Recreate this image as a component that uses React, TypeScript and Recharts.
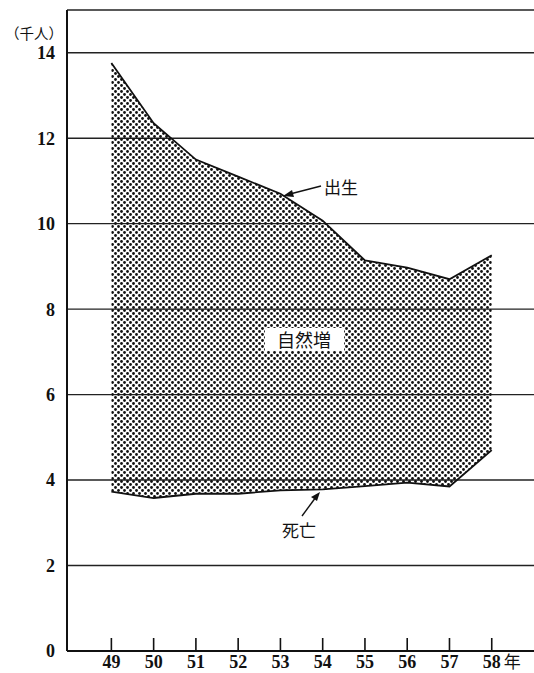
import { ComposedChart, Area, Line, XAxis, YAxis, CartesianGrid } from 'recharts'

// 年（昭和）
const years = [49, 50, 51, 52, 53, 54, 55, 56, 57, 58]
// 出生数（千人）
const births = [13.76, 12.35, 11.5, 11.1, 10.7, 10.07, 9.14, 8.97, 8.7, 9.26]
// 死亡数（千人）
const deaths = [3.73, 3.58, 3.68, 3.68, 3.76, 3.78, 3.86, 3.94, 3.85, 4.7]
const yTicks = [0, 2, 4, 6, 8, 10, 12, 14]

const data = years.map((year, i) => ({
  year,
  birth: births[i],
  death: deaths[i],
  range: [deaths[i], births[i]],
}))

const serif = '"Liberation Serif", "DejaVu Serif", serif'
const jp = '"Noto Sans CJK JP", sans-serif'

// tick marks point up into the plot, labels sit under the axis
const YearTick = (props: any) => {
  const { x, y, payload } = props
  const last = payload.value === years[years.length - 1]
  return (
    <g>
      <line x1={x} x2={x} y1={y - 13} y2={y} stroke="#111" strokeWidth={1.6} />
      <text x={x} y={y + 17} textAnchor="middle" fontFamily={serif} fontWeight="bold" fontSize={18} fill="#111">
        {payload.value}
      </text>
      {last && (
        <text x={x + 12} y={y + 17} textAnchor="start" fontFamily={jp} fontSize={17} fill="#111">
          年
        </text>
      )}
    </g>
  )
}

// annotations drawn over the chart
const Labels = () => (
  <svg width={534} height={673} style={{ position: 'absolute', left: 0, top: 0, pointerEvents: 'none' }}>
    <g fontFamily={jp} fill="#111">
      <text x={5} y={39} fontSize={14.5}>（千人）</text>
      <text x={324} y={194} fontSize={17}>出生</text>
      <line x1={321} y1={186} x2={290} y2={194} stroke="#111" strokeWidth={1.4} />
      <polygon points="283,196 292,190 294,197" fill="#111" />
      <rect x={265} y={328} width={79} height={23} fill="#fff" />
      <text x={277} y={347} fontSize={18}>自然増</text>
      <text x={282} y={537} fontSize={17}>死亡</text>
      <line x1={302} y1={516} x2={316} y2={497} stroke="#111" strokeWidth={1.4} />
      <polygon points="320,492 311,497 317,501" fill="#111" />
    </g>
  </svg>
)

export default function App() {
  return (
    <div style={{ position: 'fixed', left: 0, top: 0, width: 534, height: 673, background: '#fff' }}>
      <ComposedChart width={534} height={673} data={data} margin={{ top: 10, right: 0, left: 0, bottom: 0 }}>
        <defs>
          <pattern id="dots" width={6} height={6} patternUnits="userSpaceOnUse">
            <circle cx={1.5} cy={1.5} r={1.4} fill="#111" />
            <circle cx={4.5} cy={4.5} r={1.4} fill="#111" />
          </pattern>
        </defs>
        <CartesianGrid vertical={false} stroke="#222" strokeWidth={1.4} />
        <XAxis
          type="number"
          dataKey="year"
          domain={[47.95, 59]}
          ticks={years}
          height={22}
          tickSize={0}
          tickMargin={0}
          tickLine={false}
          axisLine={{ stroke: '#111', strokeWidth: 2 }}
          tick={<YearTick />}
          allowDataOverflow
        />
        <YAxis
          type="number"
          domain={[0, 15]}
          ticks={yTicks}
          width={67}
          tickLine={false}
          tickMargin={6}
          axisLine={{ stroke: '#111', strokeWidth: 2 }}
          tick={{ fill: '#111', fontSize: 18, fontFamily: serif, fontWeight: 'bold' }}
        />
        <Area type="linear" dataKey="range" stroke="none" fill="url(#dots)" fillOpacity={1} isAnimationActive={false} />
        <Line type="linear" dataKey="birth" stroke="#111" strokeWidth={1.8} dot={false} isAnimationActive={false} />
        <Line type="linear" dataKey="death" stroke="#111" strokeWidth={1.8} dot={false} isAnimationActive={false} />
      </ComposedChart>
      <Labels />
    </div>
  )
}
